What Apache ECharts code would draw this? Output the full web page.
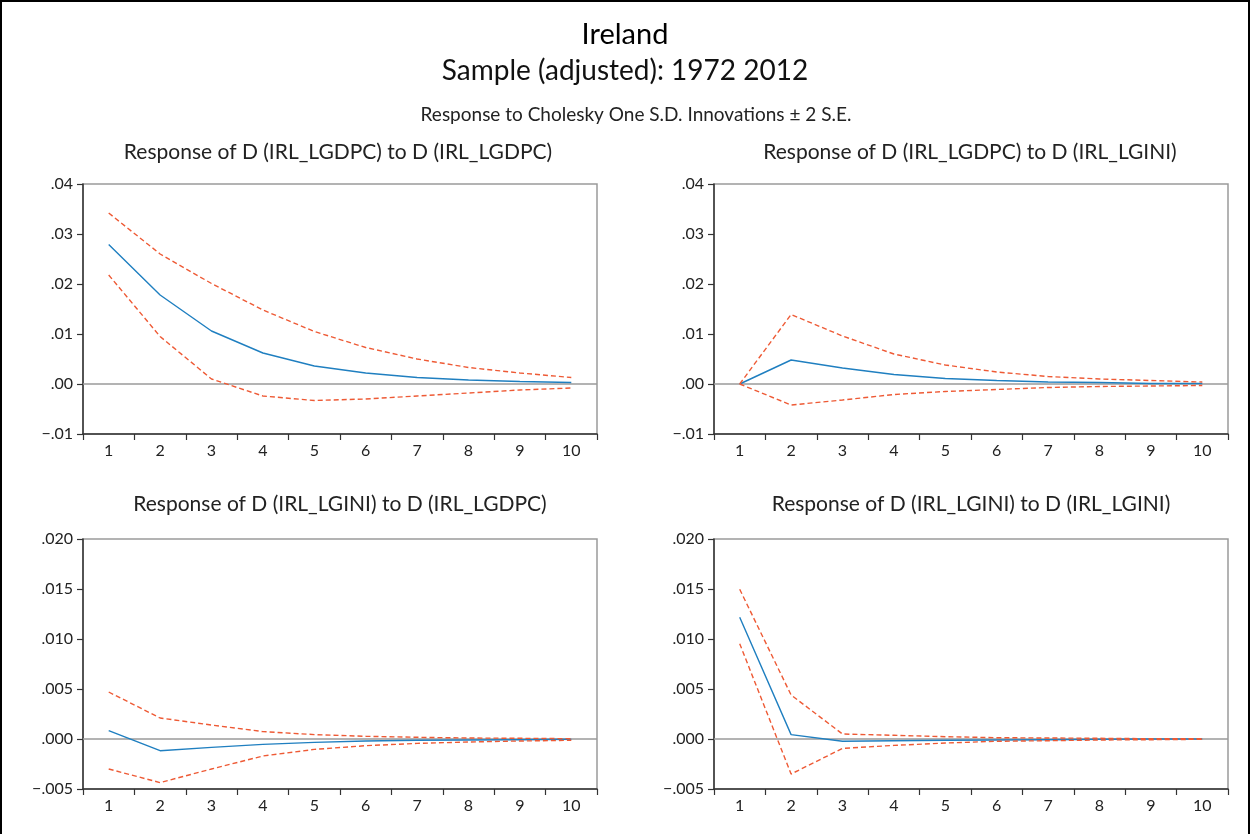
<!DOCTYPE html>
<html>
<head>
<meta charset="utf-8">
<script src="https://cdn.jsdelivr.net/npm/echarts@6/dist/echarts.min.js"></script>
<style>
html,body{margin:0;padding:0;background:#fff;}
#chart{width:1250px;height:834px;}
</style>
</head>
<body>
<div id="chart"></div>
<script>
// ---- Data ----
var periods = ['1','2','3','4','5','6','7','8','9','10'];

var titleMain = 'Ireland';
var titleSample = 'Sample (adjusted): 1972 2012';
var titleSub = 'Response to Cholesky One S.D. Innovations \u00b1 2 S.E.';
var panelTitles = [
  'Response of D (IRL_LGDPC) to D (IRL_LGDPC)',
  'Response of D (IRL_LGDPC) to D (IRL_LGINI)',
  'Response of D (IRL_LGINI) to D (IRL_LGDPC)',
  'Response of D (IRL_LGINI) to D (IRL_LGINI)'
];

// Panel 1: GDPC -> GDPC
var p1Resp  = [0.0279, 0.0178, 0.0106, 0.0062, 0.0036, 0.0022, 0.0013, 0.0008, 0.0005, 0.0003];
var p1Upper = [0.0342, 0.0260, 0.0201, 0.0148, 0.0105, 0.0073, 0.0050, 0.0033, 0.0022, 0.0013];
var p1Lower = [0.0218, 0.0095, 0.0010, -0.0024, -0.0033, -0.0030, -0.0024, -0.0018, -0.0012, -0.0008];

// Panel 2: GDPC -> GINI
var p2Resp  = [0.0000, 0.0048, 0.0032, 0.0019, 0.0011, 0.0007, 0.0004, 0.0003, 0.0001, 0.0001];
var p2Upper = [0.0000, 0.0139, 0.0096, 0.0060, 0.0038, 0.0024, 0.0015, 0.0010, 0.0007, 0.0004];
var p2Lower = [0.0000, -0.0042, -0.0032, -0.0021, -0.0015, -0.0011, -0.0007, -0.0005, -0.0004, -0.0003];

// Panel 3: GINI -> GDPC
var p3Resp  = [0.00084, -0.00117, -0.00084, -0.00054, -0.00034, -0.00020, -0.00013, -0.00010, -0.00007, -0.00003];
var p3Upper = [0.00470, 0.00210, 0.00140, 0.00074, 0.00044, 0.00027, 0.00017, 0.00010, 0.00007, 0.00003];
var p3Lower = [-0.00300, -0.00436, -0.00300, -0.00170, -0.00104, -0.00067, -0.00044, -0.00030, -0.00020, -0.00013];

// Panel 4: GINI -> GINI
var p4Resp  = [0.01218, 0.00044, -0.00023, -0.00017, -0.00013, -0.00010, -0.00007, -0.00003, 0.00000, 0.00000];
var p4Upper = [0.01497, 0.00440, 0.00050, 0.00037, 0.00023, 0.00013, 0.00010, 0.00007, 0.00003, 0.00003];
var p4Lower = [0.00953, -0.00350, -0.00094, -0.00064, -0.00040, -0.00023, -0.00017, -0.00010, -0.00007, -0.00003];

var topAxis = {min: -0.01, max: 0.04, interval: 0.01, decimals: 2};
var botAxis = {min: -0.005, max: 0.02, interval: 0.005, decimals: 3};

// ---- Styling / layout ----
var FONT = 'Lato, "Open Sans", sans-serif';
var BLUE = '#1f7fc0';
var RED = '#ee5a35';
var grids = [
  {left: 83, top: 184, width: 514, height: 250},
  {left: 714, top: 184, width: 514, height: 250},
  {left: 83, top: 539, width: 514, height: 250},
  {left: 714, top: 539, width: 514, height: 250}
];
var panels = [
  {resp: p1Resp, up: p1Upper, lo: p1Lower, ax: topAxis},
  {resp: p2Resp, up: p2Upper, lo: p2Lower, ax: topAxis},
  {resp: p3Resp, up: p3Upper, lo: p3Lower, ax: botAxis},
  {resp: p4Resp, up: p4Upper, lo: p4Lower, ax: botAxis}
];
var titlePos = [[338, 152], [970, 152], [340, 504], [971, 504]];

function fmt(dec) {
  return function (v) {
    var s = Math.abs(v).toFixed(dec).replace(/^0/, '');
    return (v < -1e-12 ? '\u2212' : '') + s;
  };
}

var gridOpts = [], xAxes = [], yAxes = [], series = [];
panels.forEach(function (p, i) {
  gridOpts.push(Object.assign({show: true, borderColor: '#9a9a9a', borderWidth: 1.5, backgroundColor: '#fff'}, grids[i]));
  xAxes.push({
    type: 'category', gridIndex: i, data: periods, boundaryGap: true,
    axisLine: {onZero: false, lineStyle: {color: '#333', width: 1.5}},
    axisTick: {show: true, inside: false, length: 6, interval: 0, lineStyle: {color: '#333', width: 1.2}},
    axisLabel: {fontFamily: FONT, fontSize: 16, color: '#222', margin: 9, interval: 0},
    splitLine: {show: false}
  });
  yAxes.push({
    type: 'value', gridIndex: i, min: p.ax.min, max: p.ax.max, interval: p.ax.interval,
    axisLine: {show: true, onZero: false, lineStyle: {color: '#333', width: 1.5}},
    axisTick: {show: true, inside: false, length: 6, lineStyle: {color: '#333', width: 1.2}},
    axisLabel: {fontFamily: FONT, fontSize: 16, color: '#222', margin: 10, formatter: fmt(p.ax.decimals)},
    splitLine: {show: false}
  });
  series.push({
    type: 'line', xAxisIndex: i, yAxisIndex: i, data: p.resp, showSymbol: false, symbol: 'none',
    lineStyle: {color: BLUE, width: 1.4}, animation: false, silent: true,
    markLine: {silent: true, symbol: 'none', label: {show: false}, animation: false, z: 1,
      lineStyle: {color: '#9a9a9a', type: 'solid', width: 1.5}, data: [{yAxis: 0}]}
  });
  series.push({
    type: 'line', xAxisIndex: i, yAxisIndex: i, data: p.up, showSymbol: false, symbol: 'none',
    lineStyle: {color: RED, width: 1.4, type: [5, 3]}, animation: false, silent: true
  });
  series.push({
    type: 'line', xAxisIndex: i, yAxisIndex: i, data: p.lo, showSymbol: false, symbol: 'none',
    lineStyle: {color: RED, width: 1.4, type: [5, 3]}, animation: false, silent: true
  });
});

var graphics = [
  {type: 'rect', shape: {x: 1, y: 1, width: 1248, height: 850}, style: {fill: 'none', stroke: '#000', lineWidth: 2}, silent: true, z: 100},
  {type: 'text', x: 625, y: 35, style: {text: titleMain, font: '29px ' + FONT, fill: '#000', textAlign: 'center', textVerticalAlign: 'middle'}},
  {type: 'text', x: 625, y: 71, style: {text: titleSample, font: '28px ' + FONT, fill: '#111', textAlign: 'center', textVerticalAlign: 'middle'}},
  {type: 'text', x: 636, y: 115, style: {text: titleSub, font: '19px ' + FONT, fill: '#222', textAlign: 'center', textVerticalAlign: 'middle'}}
];
panelTitles.forEach(function (t, i) {
  graphics.push({type: 'text', x: titlePos[i][0], y: titlePos[i][1],
    style: {text: t, font: '21px ' + FONT, fill: '#222', textAlign: 'center', textVerticalAlign: 'middle'}});
});

var chart = echarts.init(document.getElementById('chart'), null, {renderer: 'canvas'});
chart.setOption({
  backgroundColor: '#fff',
  animation: false,
  grid: gridOpts,
  xAxis: xAxes,
  yAxis: yAxes,
  series: series,
  graphic: graphics
});
</script>
</body>
</html>
